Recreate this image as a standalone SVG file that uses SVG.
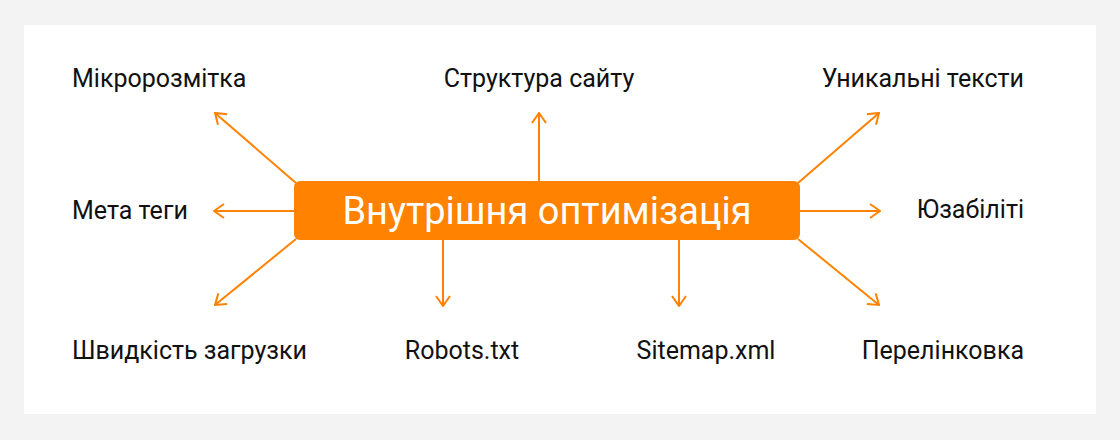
<svg xmlns="http://www.w3.org/2000/svg" width="1120" height="440" viewBox="0 0 1120 440">
<style>
.l{font-family:Roboto,"Liberation Sans",sans-serif;font-size:25px;fill:#111}
.c{stroke:#ff8200;stroke-width:2;fill:none}
</style>
<defs><marker id="a" viewBox="0 0 12 16" refX="11" refY="8" markerWidth="12" markerHeight="16" markerUnits="userSpaceOnUse" orient="auto"><path d="M1,1 L11,8 L1,15" fill="none" stroke="#ff8200" stroke-width="2"/></marker></defs>
<rect width="1120" height="440" fill="#f3f3f3"/>
<rect x="24" y="25" width="1072" height="389" fill="#fff"/>
<g id="connectors">
<line class="c" x1="296" y1="183" x2="215" y2="113" marker-end="url(#a)"/>
<line class="c" x1="294" y1="211" x2="214" y2="211" marker-end="url(#a)"/>
<line class="c" x1="296" y1="239" x2="215" y2="305" marker-end="url(#a)"/>
<line class="c" x1="539" y1="181" x2="539" y2="113" marker-end="url(#a)"/>
<line class="c" x1="443" y1="240" x2="443" y2="306" marker-end="url(#a)"/>
<line class="c" x1="679" y1="240" x2="679" y2="306" marker-end="url(#a)"/>
<line class="c" x1="798" y1="183" x2="879" y2="113" marker-end="url(#a)"/>
<line class="c" x1="800" y1="211" x2="880" y2="211" marker-end="url(#a)"/>
<line class="c" x1="798" y1="239" x2="879" y2="305" marker-end="url(#a)"/>
</g>
<g id="center"><rect x="294" y="181" width="506" height="59" rx="6" fill="#ff8200"/><text x="547" y="224" text-anchor="middle" font-family="Roboto,'Liberation Sans',sans-serif" font-size="38" fill="#fff">Внутрішня оптимізація</text></g>
<g id="n1"><text class="l" x="72" y="87">Мікророзмітка</text></g>
<g id="n2"><text class="l" x="539" y="87" text-anchor="middle">Структура сайту</text></g>
<g id="n3"><text class="l" x="1024" y="87" text-anchor="end">Уникальні тексти</text></g>
<g id="n4"><text class="l" x="72" y="219">Мета теги</text></g>
<g id="n5"><text class="l" x="1024" y="218" text-anchor="end">Юзабіліті</text></g>
<g id="n6"><text class="l" x="72" y="359">Швидкість загрузки</text></g>
<g id="n7"><text class="l" x="462" y="359" text-anchor="middle">Robots.txt</text></g>
<g id="n8"><text class="l" x="706" y="359" text-anchor="middle">Sitemap.xml</text></g>
<g id="n9"><text class="l" x="1024" y="359" text-anchor="end">Перелінковка</text></g>
</svg>
